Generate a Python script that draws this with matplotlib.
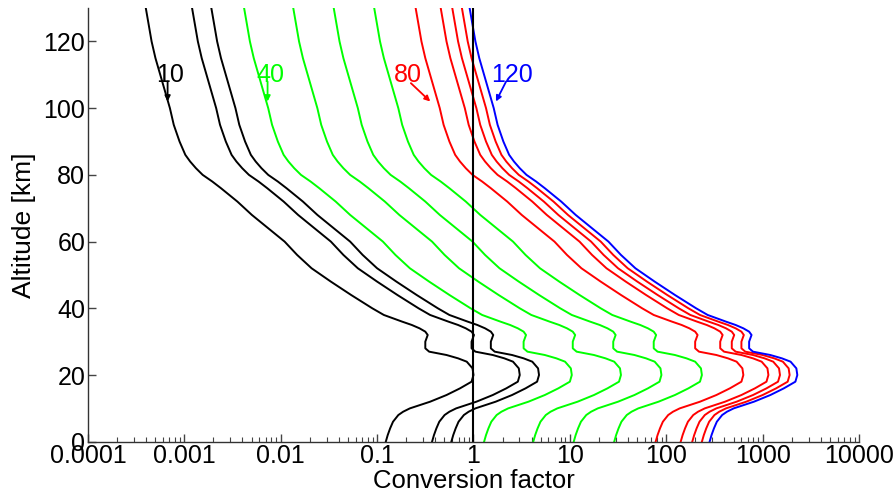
import matplotlib
matplotlib.use("Agg")
import matplotlib.pyplot as plt
import numpy as np
from matplotlib.ticker import LogLocator, FixedLocator, NullFormatter, NullLocator

plt.rcParams['font.family'] = ['Liberation Sans', 'DejaVu Sans']

# Altitude grid [km]
altitude = [0, 2, 4, 6, 8, 9, 10, 12, 14, 16, 18, 20, 22, 24, 25, 26, 27, 28, 30, 32, 33,
            34, 35, 36, 38, 40, 44, 48, 52, 56, 60, 64, 68,
            72, 76, 78, 80, 82, 84, 86, 88, 90, 95, 100, 105, 110, 115, 120, 125, 130]

# log10(conversion factor) per curve
log_cf_10 = [-0.91, -0.89, -0.865, -0.835, -0.78, -0.73, -0.66, -0.45, -0.28, -0.14, -0.02, 0.00, -0.01, -0.07, -0.16, -0.28, -0.46, -0.50, -0.50, -0.475, -0.50, -0.56, -0.64, -0.74, -0.93, -1.05, -1.27, -1.48, -1.68, -1.83, -1.96, -2.13, -2.30,
             -2.45, -2.62, -2.71, -2.81, -2.88, -2.94, -2.99, -3.02, -3.05, -3.11, -3.15, -3.20, -3.25, -3.30, -3.34, -3.37, -3.40]
log_cf_20 = [-0.43, -0.41, -0.385, -0.355, -0.30, -0.25, -0.18, 0.03, 0.20, 0.34, 0.46, 0.48, 0.47, 0.41, 0.32, 0.20, 0.02, -0.02, -0.02, 0.005, -0.02, -0.08, -0.16, -0.26, -0.45, -0.57, -0.79, -1.00, -1.20, -1.35, -1.48, -1.65, -1.82,
             -1.97, -2.14, -2.23, -2.33, -2.40, -2.46, -2.51, -2.54, -2.57, -2.63, -2.67, -2.72, -2.77, -2.82, -2.86, -2.89, -2.92]
log_cf_30 = [-0.23, -0.21, -0.185, -0.155, -0.10, -0.05, 0.02, 0.23, 0.40, 0.54, 0.66, 0.68, 0.67, 0.61, 0.52, 0.40, 0.22, 0.18, 0.18, 0.205, 0.18, 0.12, 0.04, -0.06, -0.25, -0.37, -0.59, -0.80, -1.00, -1.15, -1.28, -1.45, -1.62,
             -1.77, -1.94, -2.03, -2.13, -2.20, -2.26, -2.31, -2.34, -2.37, -2.43, -2.47, -2.52, -2.57, -2.62, -2.66, -2.69, -2.72]
log_cf_40 = [0.11, 0.13, 0.155, 0.185, 0.24, 0.29, 0.36, 0.57, 0.74, 0.88, 1.00, 1.02, 1.01, 0.95, 0.86, 0.74, 0.56, 0.52, 0.52, 0.545, 0.52, 0.46, 0.38, 0.28, 0.09, -0.03, -0.25, -0.46, -0.66, -0.81, -0.94, -1.11, -1.28,
             -1.43, -1.60, -1.69, -1.79, -1.86, -1.92, -1.97, -2.00, -2.03, -2.09, -2.13, -2.18, -2.23, -2.28, -2.32, -2.35, -2.38]
log_cf_50 = [0.62, 0.64, 0.665, 0.695, 0.75, 0.80, 0.87, 1.08, 1.25, 1.39, 1.51, 1.53, 1.52, 1.46, 1.37, 1.25, 1.07, 1.03, 1.03, 1.055, 1.03, 0.97, 0.89, 0.79, 0.60, 0.48, 0.26, 0.05, -0.15, -0.30, -0.43, -0.60, -0.77,
             -0.92, -1.09, -1.18, -1.28, -1.35, -1.41, -1.46, -1.49, -1.52, -1.58, -1.62, -1.67, -1.72, -1.77, -1.81, -1.84, -1.87]
log_cf_60 = [1.04, 1.06, 1.085, 1.115, 1.17, 1.22, 1.29, 1.50, 1.67, 1.81, 1.93, 1.95, 1.94, 1.88, 1.79, 1.67, 1.49, 1.45, 1.45, 1.475, 1.45, 1.39, 1.31, 1.21, 1.02, 0.90, 0.68, 0.47, 0.27, 0.12, -0.01, -0.18, -0.35,
             -0.50, -0.67, -0.76, -0.86, -0.93, -0.99, -1.04, -1.07, -1.10, -1.16, -1.20, -1.25, -1.30, -1.35, -1.39, -1.42, -1.45]
log_cf_70 = [1.46, 1.48, 1.505, 1.535, 1.59, 1.64, 1.71, 1.92, 2.09, 2.23, 2.35, 2.37, 2.36, 2.30, 2.21, 2.09, 1.91, 1.87, 1.87, 1.895, 1.87, 1.81, 1.73, 1.63, 1.44, 1.32, 1.10, 0.89, 0.69, 0.54, 0.41, 0.24, 0.07,
             -0.08, -0.25, -0.34, -0.44, -0.51, -0.57, -0.62, -0.65, -0.68, -0.74, -0.78, -0.83, -0.88, -0.93, -0.97, -1.00, -1.03]
log_cf_80 = [1.89, 1.91, 1.935, 1.965, 2.02, 2.07, 2.14, 2.35, 2.52, 2.66, 2.78, 2.80, 2.79, 2.73, 2.64, 2.52, 2.34, 2.30, 2.30, 2.325, 2.30, 2.24, 2.16, 2.06, 1.87, 1.75, 1.53, 1.32, 1.12, 0.97, 0.84, 0.67, 0.50,
             0.35, 0.18, 0.09, -0.01, -0.08, -0.14, -0.19, -0.22, -0.25, -0.31, -0.35, -0.40, -0.45, -0.50, -0.54, -0.57, -0.60]
log_cf_90 = [2.15, 2.17, 2.195, 2.225, 2.28, 2.33, 2.40, 2.61, 2.78, 2.92, 3.04, 3.06, 3.05, 2.99, 2.90, 2.78, 2.60, 2.56, 2.56, 2.585, 2.56, 2.50, 2.42, 2.32, 2.13, 2.01, 1.79, 1.58, 1.38, 1.23, 1.10, 0.93, 0.76,
             0.61, 0.44, 0.35, 0.25, 0.18, 0.12, 0.07, 0.04, 0.01, -0.05, -0.09, -0.14, -0.19, -0.24, -0.28, -0.31, -0.34]
log_cf_100 = [2.27, 2.29, 2.315, 2.345, 2.40, 2.45, 2.52, 2.73, 2.90, 3.04, 3.16, 3.18, 3.17, 3.11, 3.02, 2.90, 2.72, 2.68, 2.68, 2.705, 2.68, 2.62, 2.54, 2.44, 2.25, 2.13, 1.91, 1.70, 1.50, 1.35, 1.22, 1.05, 0.88,
              0.73, 0.56, 0.47, 0.37, 0.30, 0.24, 0.19, 0.16, 0.13, 0.07, 0.03, -0.02, -0.07, -0.12, -0.16, -0.19, -0.22]
log_cf_110 = [2.37, 2.39, 2.415, 2.445, 2.50, 2.55, 2.62, 2.83, 3.00, 3.14, 3.26, 3.28, 3.27, 3.21, 3.12, 3.00, 2.82, 2.78, 2.78, 2.805, 2.78, 2.72, 2.64, 2.54, 2.35, 2.23, 2.01, 1.80, 1.60, 1.45, 1.32, 1.15, 0.98,
              0.83, 0.66, 0.57, 0.47, 0.40, 0.34, 0.29, 0.26, 0.23, 0.17, 0.13, 0.08, 0.03, -0.02, -0.06, -0.09, -0.12]
log_cf_120 = [2.45, 2.47, 2.495, 2.525, 2.58, 2.63, 2.70, 2.91, 3.08, 3.22, 3.34, 3.36, 3.35, 3.29, 3.20, 3.08, 2.90, 2.86, 2.86, 2.885, 2.86, 2.80, 2.72, 2.62, 2.43, 2.31, 2.09, 1.88, 1.68, 1.53, 1.40, 1.23, 1.06,
              0.91, 0.74, 0.65, 0.55, 0.48, 0.42, 0.37, 0.34, 0.31, 0.25, 0.21, 0.16, 0.11, 0.06, 0.02, -0.01, -0.04]

curve_labels = [10, 20, 30, 40, 50, 60, 70, 80, 90, 100, 110, 120]
curve_colors = ['black'] * 3 + ['#00ff00'] * 4 + ['#ff0000'] * 4 + ['#0000ff']
curves = [log_cf_10, log_cf_20, log_cf_30, log_cf_40, log_cf_50, log_cf_60,
          log_cf_70, log_cf_80, log_cf_90, log_cf_100, log_cf_110, log_cf_120]

xtick_vals = [1e-4, 1e-3, 1e-2, 1e-1, 1, 10, 100, 1000, 10000]
xtick_labels = ['0.0001', '0.001', '0.01', '0.1', '1', '10', '100', '1000', '10000']
ytick_vals = [0, 20, 40, 60, 80, 100, 120]

# annotations
annot_labels = ['10', '40', '80', '120']
annot_text_x = [7.1e-4, 7.8e-3, 0.21, 2.5]
annot_text_y = [110, 110, 110, 110]
annot_tip_x = [6.7e-4, 7.3e-3, 0.356, 1.71]
annot_tip_y = [102, 102, 102, 102]
annot_tail_x = [6.7e-4, 7.3e-3, 0.224, 2.18]
annot_tail_y = [108, 108, 107.5, 108]
annot_colors = ['black', '#00ff00', '#ff0000', '#0000ff']

fig = plt.figure(figsize=(8.96, 4.93), dpi=100)
ax = fig.add_axes([0.0982, 0.104, 0.8605, 0.8796])

for vals, col in zip(curves, curve_colors):
    ax.plot(10 ** np.array(vals), altitude, color=col, lw=1.4, solid_joinstyle='round')

ax.axvline(1, color='black', lw=1.5)

for lab, tx, ty, hx, hy, sx, sy, col in zip(annot_labels, annot_text_x, annot_text_y,
                                             annot_tip_x, annot_tip_y, annot_tail_x,
                                             annot_tail_y, annot_colors):
    ax.text(tx, ty, lab, color=col, fontsize=18, ha='center', va='center')
    ax.annotate('', xy=(hx, hy), xytext=(sx, sy),
                arrowprops=dict(arrowstyle='-|>', color=col, lw=1.3,
                                mutation_scale=8, shrinkA=0, shrinkB=0))

ax.set_xscale('log')
ax.set_xlim(1e-4, 1e4)
ax.set_ylim(0, 130)
ax.xaxis.set_major_locator(FixedLocator(xtick_vals))
ax.set_xticklabels(xtick_labels)
ax.xaxis.set_minor_locator(LogLocator(base=10, subs=np.arange(2, 10), numticks=20))
ax.xaxis.set_minor_formatter(NullFormatter())
ax.set_yticks(ytick_vals)
ax.yaxis.set_minor_locator(NullLocator())

for s in ['top', 'right']:
    ax.spines[s].set_visible(False)
for s in ['left', 'bottom']:
    ax.spines[s].set_color('#333333')
    ax.spines[s].set_linewidth(1.0)

ax.tick_params(axis='both', which='major', direction='in', length=6, width=1,
               color='#444444', labelsize=18)
ax.tick_params(axis='x', which='major', pad=1.5)
ax.tick_params(axis='y', which='major', pad=2)
ax.tick_params(axis='x', which='minor', direction='in', length=3.5, width=0.8, color='#444444')
ax.tick_params(top=False, right=False, which='both')

ax.set_xlabel('Conversion factor', fontsize=18.5, labelpad=1)
ax.set_ylabel('Altitude [km]', fontsize=19, labelpad=5)

fig.savefig('out.png', dpi=100)
